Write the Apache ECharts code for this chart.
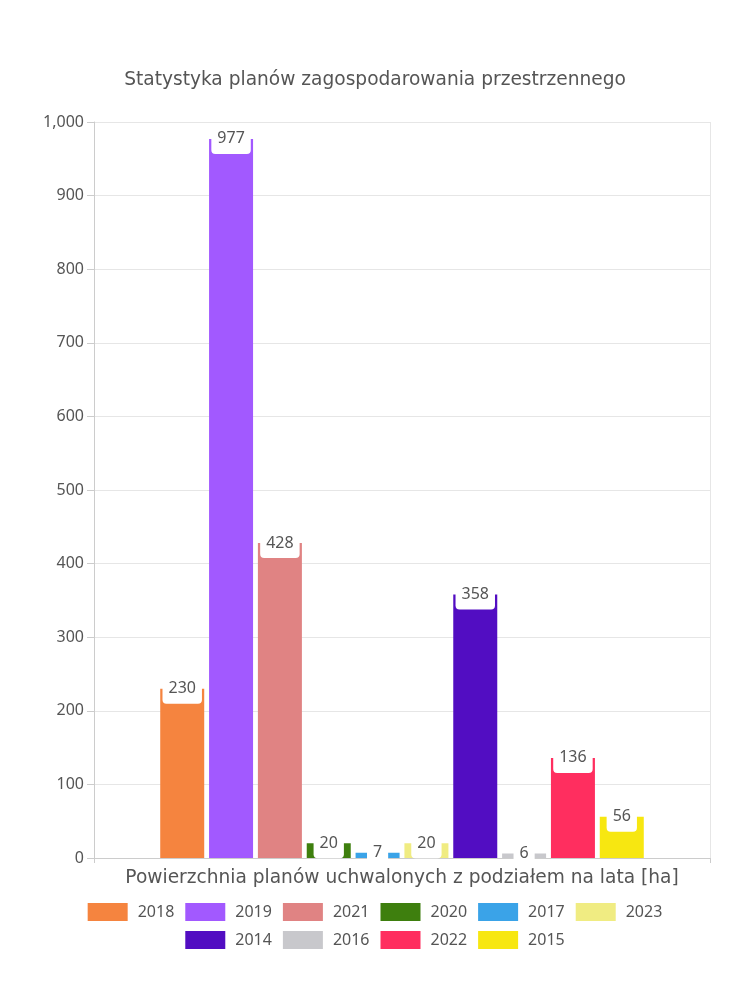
<!DOCTYPE html>
<html><head><meta charset="utf-8">
<script src="https://cdn.jsdelivr.net/npm/echarts@6/dist/echarts.min.js"></script>
<style>html,body{margin:0;padding:0;background:#fff}#c{width:750px;height:1000px}</style>
</head><body><div id="c"></div>
<script>
const titleText = 'Statystyka planów zagospodarowania przestrzennego';
const categories = ['Powierzchnia planów uchwalonych z podziałem na lata [ha]'];
const seriesNames = ['2018','2019','2021','2020','2017','2023','2014','2016','2022','2015'];
const seriesValues = [230, 977, 428, 20, 7, 20, 358, 6, 136, 56];
const seriesColors = ['#f5843f','#a259ff','#e08383','#3e7f0e','#3aa3e8','#f0ec82','#520dc2','#c8c8cc','#ff2e5f','#f7e711'];
const yTicks = {min: 0, max: 1000, interval: 100};

const FONT = 'Noto Sans';
const WIDE = 'DejaVu Sans';
const legendBase = {left: 'center', padding: 0, itemWidth: 40, itemHeight: 18, itemGap: 11, icon: 'rect',
  textStyle: {fontSize: 16, color: '#555', fontFamily: FONT, padding: [0, 0, 0, 5]}};
const chart = echarts.init(document.getElementById('c'), null, {renderer: 'canvas'});
chart.setOption({
  backgroundColor: '#fff',
  textStyle: {fontFamily: FONT},
  title: {text: titleText, left: 'center', top: 66,
    textStyle: {fontFamily: WIDE, fontSize: 18.6, fontWeight: 'normal', color: '#555'}},
  grid: {left: 94, right: 40, top: 122, bottom: 142},
  legend: [
    Object.assign({top: 903, data: seriesNames.slice(0, 6)}, legendBase),
    Object.assign({top: 931, data: seriesNames.slice(6)}, legendBase)
  ],
  xAxis: {type: 'category', data: categories,
    axisLine: {lineStyle: {color: '#ccc'}},
    axisTick: {show: true, lineStyle: {color: '#ccc'}},
    splitLine: {show: true, lineStyle: {color: '#e6e6e6'}},
    axisLabel: {fontSize: 18.6, color: '#555', margin: 11, fontFamily: WIDE}},
  yAxis: {type: 'value', min: yTicks.min, max: yTicks.max, interval: yTicks.interval,
    axisLine: {show: true, lineStyle: {color: '#ccc'}},
    axisTick: {show: true, length: 7, lineStyle: {color: '#ccc'}},
    splitLine: {lineStyle: {color: '#e6e6e6'}},
    axisLabel: {fontSize: 16, color: '#555', margin: 10, fontFamily: FONT}},
  series: seriesNames.map((n, i) => ({
    name: n, type: 'bar', barWidth: 44, barGap: '11%',
    itemStyle: {color: seriesColors[i]},
    data: [seriesValues[i]],
    label: {show: true, position: 'insideTop', distance: 0, offset: [0, -9],
      color: '#555', fontSize: 16, fontFamily: FONT,
      backgroundColor: '#fff', padding: [1, 6, 7, 6], borderRadius: [0, 0, 4, 4]}
  }))
});
</script></body></html>
